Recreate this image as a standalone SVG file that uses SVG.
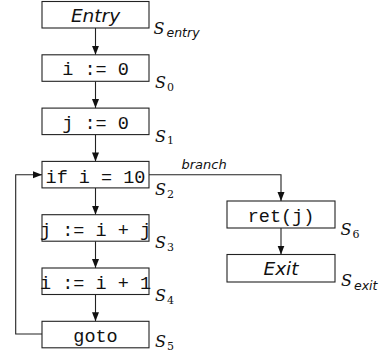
<svg xmlns="http://www.w3.org/2000/svg" width="381" height="357" viewBox="0 0 381 357">
  <style>
    .box { fill: #ffffff; stroke: #222222; stroke-width: 1.1; }
    .edge { fill: none; stroke: #222222; stroke-width: 1.1; }
    .code { font-family: "Liberation Mono", "DejaVu Sans Mono", monospace; font-size: 18.5px; fill: #111111; text-anchor: middle; }
    .term { font-family: "DejaVu Sans", sans-serif; font-style: italic; font-size: 18.5px; fill: #111111; text-anchor: middle; }
    .sym { font-family: "DejaVu Serif", serif; font-style: italic; font-size: 16px; fill: #111111; }
    .idx { font-family: "DejaVu Serif", serif; font-size: 11px; fill: #111111; }
    .sub { font-family: "DejaVu Sans", sans-serif; font-style: italic; font-size: 12.5px; fill: #111111; }
    .lbl { font-family: "DejaVu Sans", sans-serif; font-style: italic; font-size: 13px; fill: #111111; }
  </style>
  <defs>
    <marker id="arrow" markerUnits="userSpaceOnUse" markerWidth="10" markerHeight="8" refX="9" refY="3.5" orient="auto">
      <path d="M0,0 L9,3.5 L0,7 z" fill="#111111"/>
    </marker>
  </defs>

  <!-- control-flow edges -->
  <g id="edges">
    <line class="edge" x1="95.5" y1="28" x2="95.5" y2="54.8" marker-end="url(#arrow)"/>
    <line class="edge" x1="95.5" y1="81.3" x2="95.5" y2="108.1" marker-end="url(#arrow)"/>
    <line class="edge" x1="95.5" y1="134.6" x2="95.5" y2="161.4" marker-end="url(#arrow)"/>
    <line class="edge" x1="95.5" y1="187.9" x2="95.5" y2="214.7" marker-end="url(#arrow)"/>
    <line class="edge" x1="95.5" y1="241.2" x2="95.5" y2="268" marker-end="url(#arrow)"/>
    <line class="edge" x1="95.5" y1="294.5" x2="95.5" y2="321.3" marker-end="url(#arrow)"/>
    <path class="edge" d="M42,334 H15.7 V174.8 H42" marker-end="url(#arrow)"/>
    <path class="edge" d="M149,174.8 H281 V201" marker-end="url(#arrow)"/>
    <line class="edge" x1="281" y1="228" x2="281" y2="254.5" marker-end="url(#arrow)"/>
    <text class="lbl" x="181.5" y="169.3">branch</text>
  </g>

  <g id="s-entry">
    <rect class="box" x="42" y="1.5" width="107" height="26.5"/>
    <text class="term" x="95.5" y="21.7">Entry</text>
    <text class="sym" x="153.5" y="33.5">S</text>
    <text class="sub" x="166.5" y="37">entry</text>
  </g>

  <g id="s0">
    <rect class="box" x="42" y="54.8" width="107" height="26.5"/>
    <text class="code" x="95.5" y="75.3">i := 0</text>
    <text class="sym" x="155" y="88.3">S</text>
    <text class="idx" x="167" y="91">0</text>
  </g>

  <g id="s1">
    <rect class="box" x="42" y="108.1" width="107" height="26.5"/>
    <text class="code" x="95.5" y="128.6">j := 0</text>
    <text class="sym" x="155" y="141.6">S</text>
    <text class="idx" x="167" y="144.4">1</text>
  </g>

  <g id="s2">
    <rect class="box" x="42" y="161.4" width="107" height="26.5"/>
    <text class="code" x="95.5" y="182.5">if i = 10</text>
    <text class="sym" x="155" y="194.9">S</text>
    <text class="idx" x="167" y="197.7">2</text>
  </g>

  <g id="s3">
    <rect class="box" x="42" y="214.7" width="107" height="26.5"/>
    <text class="code" x="95.5" y="235.5">j := i + j</text>
    <text class="sym" x="155" y="248.2">S</text>
    <text class="idx" x="167" y="251">3</text>
  </g>

  <g id="s4">
    <rect class="box" x="42" y="268" width="107" height="26.5"/>
    <text class="code" x="95.5" y="288.8">i := i + 1</text>
    <text class="sym" x="155" y="301">S</text>
    <text class="idx" x="167" y="303.8">4</text>
  </g>

  <g id="s5">
    <rect class="box" x="42" y="321.3" width="107" height="26.5"/>
    <text class="code" x="95.5" y="341.8">goto</text>
    <text class="sym" x="155" y="347">S</text>
    <text class="idx" x="167" y="349.8">5</text>
  </g>

  <g id="s6">
    <rect class="box" x="227" y="201" width="108" height="27"/>
    <text class="code" x="281" y="221.7">ret(j)</text>
    <text class="sym" x="340.5" y="235">S</text>
    <text class="idx" x="352.5" y="237.8">6</text>
  </g>

  <g id="s-exit">
    <rect class="box" x="227" y="254.5" width="108" height="27.5"/>
    <text class="term" x="281" y="275">Exit</text>
    <text class="sym" x="341" y="285.5">S</text>
    <text class="sub" x="354" y="289.5">exit</text>
  </g>
</svg>
